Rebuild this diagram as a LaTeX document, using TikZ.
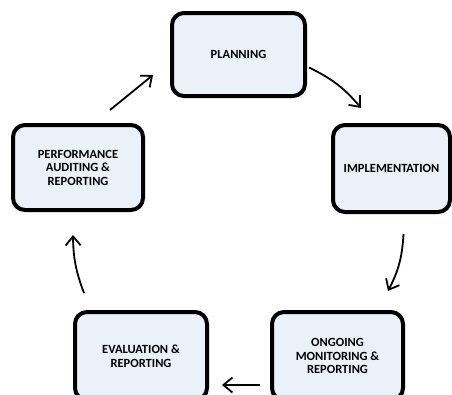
\documentclass[tikz,border=0pt]{standalone}
\usepackage{fontspec}
\setmainfont{Carlito}
\usetikzlibrary{arrows.meta,calc}
\definecolor{boxfill}{RGB}{234,241,249}
\tikzset{
  stage/.style={draw=black, line width=4pt, rounded corners=12pt, fill=boxfill,
    align=center, inner sep=0pt,
    font=\fontsize{12.5}{13.5}\selectfont\bfseries},
  flow/.style={line width=1.8pt, -{Straight Barb[length=9pt,width=15pt,line width=1.8pt]}},
}
\begin{document}
\begin{tikzpicture}[x=1pt,y=-1pt]
\useasboundingbox (0,0) rectangle (452,394);
\begin{scope}
\clip (0,0) rectangle (452,394);
\node[stage, minimum width=133pt, minimum height=83pt] (plan) at (238.5,54.5) {PLANNING};
\node[stage, minimum width=117pt, minimum height=87pt] (impl) at (391.5,168.5) {IMPLEMENTATION};
\node[stage, minimum width=130pt, minimum height=85pt] (perf) at (78,167.5) {PERFORMANCE\\AUDITING \&\\REPORTING};
\node[stage, minimum width=131pt, minimum height=88pt] (ong) at (337.5,356) {ONGOING\\MONITORING \&\\REPORTING};
\node[stage, minimum width=132pt, minimum height=88pt] (eval) at (141,356) {EVALUATION \&\\REPORTING};
\end{scope}
\draw[flow] ([shift={(32,-13)}]perf.north) -- ([shift={(-17,20.5)}]plan.west);
\draw[flow] ([shift={(2,13)}]plan.east) to[bend left=12] ([shift={(30,-15)}]impl.north west);
\draw[flow] ([shift={(12,20)}]impl.south) to[bend left=12] ([shift={(50.5,-19)}]ong.north);
\draw[flow] ([shift={(-10,29)}]ong.west) -- ([shift={(13,29)}]eval.east);
\draw[flow] ([shift={(11,-17)}]eval.north west) to[bend left=10] ([shift={(-5,23)}]perf.south);
\end{tikzpicture}
\end{document}
